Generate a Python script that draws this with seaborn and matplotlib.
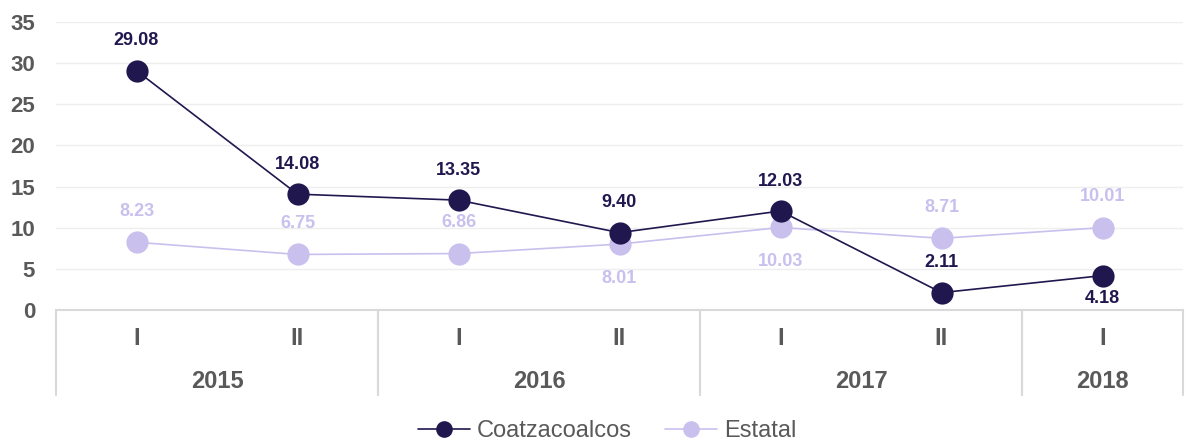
import matplotlib
matplotlib.use("Agg")
import matplotlib.pyplot as plt
import matplotlib.transforms as mtransforms
from matplotlib.lines import Line2D
import seaborn as sns
import pandas as pd

# Semester periods and the year each belongs to
periods = ["I", "II", "I", "II", "I", "II", "I"]
years = ["2015", "2015", "2016", "2016", "2017", "2017", "2018"]

coatza = [29.08, 14.08, 13.35, 9.40, 12.03, 2.11, 4.18]
estatal = [8.23, 6.75, 6.86, 8.01, 10.03, 8.71, 10.01]

# Label placement per point: +1 above the marker, -1 below
coatza_side = [1, 1, 1, 1, 1, 1, -1]
estatal_side = [1, 1, 1, -1, -1, 1, 1]

series_names = ["Coatzacoalcos", "Estatal"]
colors = {"Coatzacoalcos": "#21174f", "Estatal": "#c9c0ee"}
yticks = [0, 5, 10, 15, 20, 25, 30, 35]

idx = list(range(len(periods)))
df = pd.concat([
    pd.DataFrame({"pos": idx, "valor": coatza, "serie": "Coatzacoalcos"}),
    pd.DataFrame({"pos": idx, "valor": estatal, "serie": "Estatal"}),
])

sns.set_theme(style="white")
plt.rcParams["font.family"] = ["Liberation Sans", "DejaVu Sans"]

fig = plt.figure(figsize=(11.86, 4.40), dpi=100)
ax = fig.add_axes([56 / 1186, 1 - 310 / 440, (1183 - 56) / 1186, (310 - 22) / 440])

# Estatal drawn first so Coatzacoalcos sits on top
for name in ["Estatal", "Coatzacoalcos"]:
    sub = df[df["serie"] == name]
    sns.lineplot(data=sub, x="pos", y="valor", ax=ax, color=colors[name],
                 marker="o", markersize=16, markeredgewidth=0,
                 linewidth=1.2, label=name, legend=False)

ax.set_xlim(-0.5, len(periods) - 0.5)
ax.set_ylim(0, 35)
ax.set_yticks(yticks)
ax.set_yticklabels([str(t) for t in yticks], fontsize=16, fontweight="bold",
                   color="#595959")
ax.tick_params(axis="y", length=0, pad=15)
ax.set_xticks([])
ax.set_xlabel("")
ax.set_ylabel("")
ax.grid(axis="y", color="#eeeeee", linewidth=1)
ax.set_axisbelow(True)
for s in ["top", "right", "left"]:
    ax.spines[s].set_visible(False)
ax.spines["bottom"].set_color("#d9d9d9")
ax.spines["bottom"].set_linewidth(1.5)

# Value labels
for vals, sides, name, up, down in [
    (coatza, coatza_side, "Coatzacoalcos", 30, 23),
    (estatal, estatal_side, "Estatal", 31, 34),
]:
    for i, (v, sd) in enumerate(zip(vals, sides)):
        off = up if sd > 0 else -down
        ax.annotate(f"{v:.2f}", (i, v), xytext=(0, off), textcoords="offset pixels",
                    ha="center", va="center", fontsize=13, fontweight="bold",
                    color=colors[name])

# Two-level category axis: periods, years and separators
trans = mtransforms.blended_transform_factory(ax.transData, ax.transAxes)
h = 288.0
for i, p in enumerate(periods):
    ax.text(i, -28 / h, p, transform=trans, ha="center", va="center",
            fontsize=17, fontweight="bold", color="#595959")

groups = []
for i, y in enumerate(years):
    if groups and groups[-1][0] == y:
        groups[-1][2] = i
    else:
        groups.append([y, i, i])
for y, a, b in groups:
    ax.text((a + b) / 2, -71 / h, y, transform=trans, ha="center", va="center",
            fontsize=17, fontweight="bold", color="#595959")
    for edge in (a - 0.5, b + 0.5):
        ax.add_line(Line2D([edge, edge], [0, -85 / h], transform=trans,
                           color="#d9d9d9", linewidth=1.5, clip_on=False))

handles = [Line2D([0], [0], color=colors[n], marker="o", markersize=12,
                  markeredgewidth=0, linewidth=1.2) for n in series_names]
leg = fig.legend(handles, series_names, loc="center", bbox_to_anchor=(607 / 1186, 1 - 431 / 440),
                 ncol=2, frameon=False, fontsize=17, handlelength=2.2,
                 columnspacing=1.4, handletextpad=0.3)
for t in leg.get_texts():
    t.set_color("#595959")

fig.savefig("out.png", dpi=100)
